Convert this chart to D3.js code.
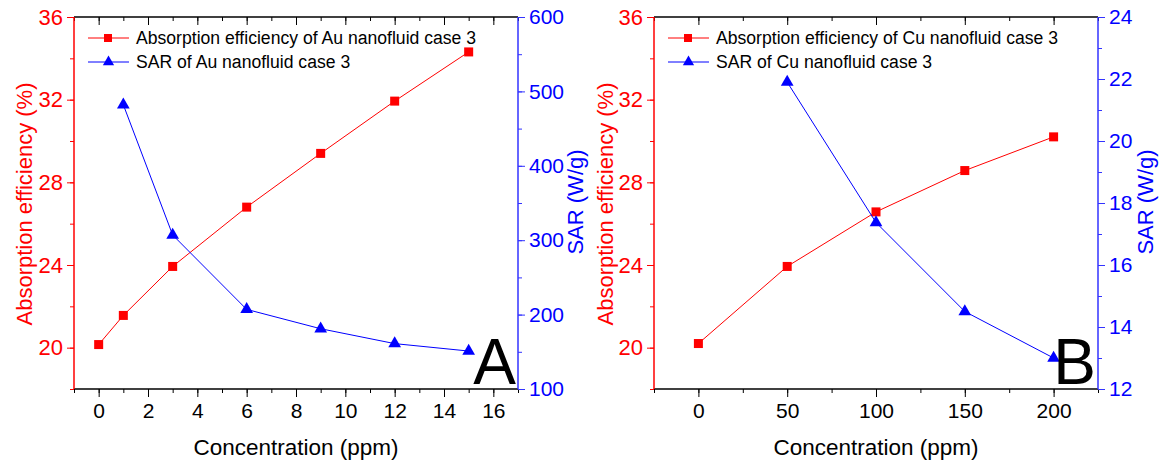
<!DOCTYPE html>
<html>
<head>
<meta charset="utf-8">
<script src="https://cdn.jsdelivr.net/npm/d3@7"></script>
<style>
  body { margin: 0; background: #fff; }
  svg { font-family: "Liberation Sans", Arial, sans-serif; }
</style>
</head>
<body>
<div id="chart"></div>
<script>
// Panel A: Au nanofluid
var auConc = [0, 1, 3, 6, 9, 12, 15];
var auAbs = [20.15, 21.56, 23.93, 26.8, 29.4, 31.93, 34.31];
var auSarConc = [1, 3, 6, 9, 12, 15];
var auSar = [482, 307, 207, 181, 161, 151];
var auXTicks = [0, 2, 4, 6, 8, 10, 12, 14, 16];
var auSarTicks = [100, 200, 300, 400, 500, 600];

// Panel B: Cu nanofluid
var cuConc = [0, 50, 100, 150, 200];
var cuAbs = [20.2, 23.93, 26.57, 28.57, 30.2];
var cuSarConc = [50, 100, 150, 200];
var cuSar = [21.9, 17.37, 14.5, 13.0];
var cuXTicks = [0, 50, 100, 150, 200];
var cuSarTicks = [12, 14, 16, 18, 20, 22, 24];

var absTicks = [20, 24, 28, 32, 36];

var W = 1163, H = 465;
var svg = d3.select("#chart").append("svg")
    .attr("width", W)
    .attr("height", H);

function drawPanel(p) {
    var g = svg.append("g").attr("transform", "translate(" + p.left + "," + 17 + ")");
    var w = p.width, h = 372;

    var x = d3.scaleLinear().domain(p.xDomain).range([0, w]);
    var yL = d3.scaleLinear().domain([18, 36]).range([h, 0]);
    var yR = d3.scaleLinear().domain(p.sarDomain).range([h, 0]);

    // minor ticks (half step)
    var xStep = p.xTicks[1] - p.xTicks[0];
    var xMinor = d3.range(p.xDomain[0], p.xDomain[1] + 1e-9, xStep / 2);
    var yRStep = p.sarTicks[1] - p.sarTicks[0];
    var yRMinor = d3.range(p.sarDomain[0], p.sarDomain[1] + 1e-9, yRStep / 2);
    var yLMinor = d3.range(18, 36.001, 2);

    // bottom axis
    var bottom = g.append("g").attr("transform", "translate(0," + h + ")");
    bottom.call(d3.axisBottom(x).tickValues(xMinor).tickSize(4).tickFormat(""));
    bottom.append("g").call(d3.axisBottom(x).tickValues(p.xTicks).tickSize(8).tickPadding(6).tickFormat(d3.format("d")));
    bottom.selectAll("text").attr("fill", "#000").attr("font-size", 21).attr("font-family", "Liberation Sans, Arial, sans-serif");

    // top axis (ticks pointing inward)
    var top = g.append("g");
    top.call(d3.axisBottom(x).tickValues(xMinor).tickSize(4).tickFormat(""));
    top.append("g").call(d3.axisBottom(x).tickValues(p.xTicks).tickSize(8).tickFormat(""));

    // left axis (red)
    var left = g.append("g");
    left.call(d3.axisLeft(yL).tickValues(yLMinor).tickSize(4).tickFormat(""));
    left.append("g").call(d3.axisLeft(yL).tickValues(absTicks).tickSize(7).tickPadding(4).tickFormat(d3.format("d")));
    left.selectAll("text").attr("fill", "#ff0000").attr("font-size", 22).attr("font-family", "Liberation Sans, Arial, sans-serif");
    left.selectAll("line").attr("stroke", "#ff0000");

    // right axis (blue)
    var right = g.append("g").attr("transform", "translate(" + w + ",0)");
    right.call(d3.axisRight(yR).tickValues(yRMinor).tickSize(4).tickFormat(""));
    right.append("g").call(d3.axisRight(yR).tickValues(p.sarTicks).tickSize(7).tickPadding(4).tickFormat(d3.format("d")));
    right.selectAll("text").attr("fill", "#0000ff").attr("font-size", 21).attr("font-family", "Liberation Sans, Arial, sans-serif");
    right.selectAll("line").attr("stroke", "#3333ff");

    g.selectAll(".domain").remove();

    // frame lines
    g.append("line").attr("x1", 0).attr("x2", w).attr("y1", 0).attr("y2", 0).attr("stroke", "#000").attr("stroke-width", 1.5);
    g.append("line").attr("x1", 0).attr("x2", w).attr("y1", h).attr("y2", h).attr("stroke", "#000").attr("stroke-width", 1.5);
    g.append("line").attr("x1", 0).attr("x2", 0).attr("y1", 0).attr("y2", h).attr("stroke", "#ff0000").attr("stroke-width", 1.5);
    g.append("line").attr("x1", w).attr("x2", w).attr("y1", 0).attr("y2", h).attr("stroke", "#3333ff").attr("stroke-width", 1.5);

    // absorption series
    var absData = p.conc.map(function(c, i) { return [c, p.abs[i]]; });
    g.append("path")
        .datum(absData)
        .attr("fill", "none")
        .attr("stroke", "#ff0000")
        .attr("stroke-width", 1)
        .attr("d", d3.line().x(function(d) { return x(d[0]); }).y(function(d) { return yL(d[1]); }));
    g.selectAll(".sq").data(absData).enter().append("rect")
        .attr("x", function(d) { return x(d[0]) - 4.5; })
        .attr("y", function(d) { return yL(d[1]) - 4.5; })
        .attr("width", 9).attr("height", 9)
        .attr("fill", "#ff0000");

    // SAR series
    var sarData = p.sarConc.map(function(c, i) { return [c, p.sar[i]]; });
    g.append("path")
        .datum(sarData)
        .attr("fill", "none")
        .attr("stroke", "#0000ff")
        .attr("stroke-width", 1)
        .attr("d", d3.line().x(function(d) { return x(d[0]); }).y(function(d) { return yR(d[1]); }));
    var tri = d3.symbol().type(d3.symbolTriangle).size(70);
    g.selectAll(".tri").data(sarData).enter().append("path")
        .attr("d", tri)
        .attr("transform", function(d) { return "translate(" + x(d[0]) + "," + yR(d[1]) + ")"; })
        .attr("fill", "#0000ff");

    // legend
    var leg = g.append("g").attr("font-size", 17.6);
    leg.append("line").attr("x1", 14).attr("x2", 55).attr("y1", 21).attr("y2", 21).attr("stroke", "#ff0000");
    leg.append("rect").attr("x", 30).attr("y", 17).attr("width", 8).attr("height", 8).attr("fill", "#ff0000");
    leg.append("text").attr("x", 62).attr("y", 27).attr("fill", "#000").text(p.absLabel);
    leg.append("line").attr("x1", 14).attr("x2", 55).attr("y1", 45).attr("y2", 45).attr("stroke", "#0000ff");
    leg.append("path").attr("d", d3.symbol().type(d3.symbolTriangle).size(55))
        .attr("transform", "translate(34.5,45)").attr("fill", "#0000ff");
    leg.append("text").attr("x", 62).attr("y", 51).attr("fill", "#000").text(p.sarLabel);

    // panel letter
    g.append("text")
        .attr("x", w - 2).attr("y", h - 5)
        .attr("text-anchor", "end")
        .attr("font-size", 64)
        .attr("fill", "#000")
        .text(p.letter);

    // axis titles
    g.append("text")
        .attr("x", w / 2).attr("y", h + 66)
        .attr("text-anchor", "middle")
        .attr("font-size", 22.5)
        .attr("fill", "#000")
        .text("Concentration (ppm)");
    g.append("text")
        .attr("transform", "translate(" + (p.leftTitleX) + "," + (h / 2 + 1) + ") rotate(-90)")
        .attr("text-anchor", "middle")
        .attr("font-size", 22)
        .attr("fill", "#ff0000")
        .text("Absorption efficiency (%)");
    g.append("text")
        .attr("transform", "translate(" + (p.rightTitleX) + "," + (h / 2 - 1) + ") rotate(-90)")
        .attr("text-anchor", "middle")
        .attr("font-size", 22)
        .attr("fill", "#0000ff")
        .text("SAR (W/g)");
}

drawPanel({
    left: 74, width: 444,
    xDomain: [-1, 17], xTicks: auXTicks,
    sarDomain: [100, 600], sarTicks: auSarTicks,
    conc: auConc, abs: auAbs, sarConc: auSarConc, sar: auSar,
    absLabel: "Absorption efficiency of Au nanofluid case 3",
    sarLabel: "SAR of Au nanofluid case 3",
    letter: "A",
    leftTitleX: -42, rightTitleX: 509
});

drawPanel({
    left: 654, width: 444,
    xDomain: [-25, 225], xTicks: cuXTicks,
    sarDomain: [12, 24], sarTicks: cuSarTicks,
    conc: cuConc, abs: cuAbs, sarConc: cuSarConc, sar: cuSar,
    absLabel: "Absorption efficiency of Cu nanofluid case 3",
    sarLabel: "SAR of Cu nanofluid case 3",
    letter: "B",
    leftTitleX: -41, rightTitleX: 499
});
</script>
</body>
</html>
